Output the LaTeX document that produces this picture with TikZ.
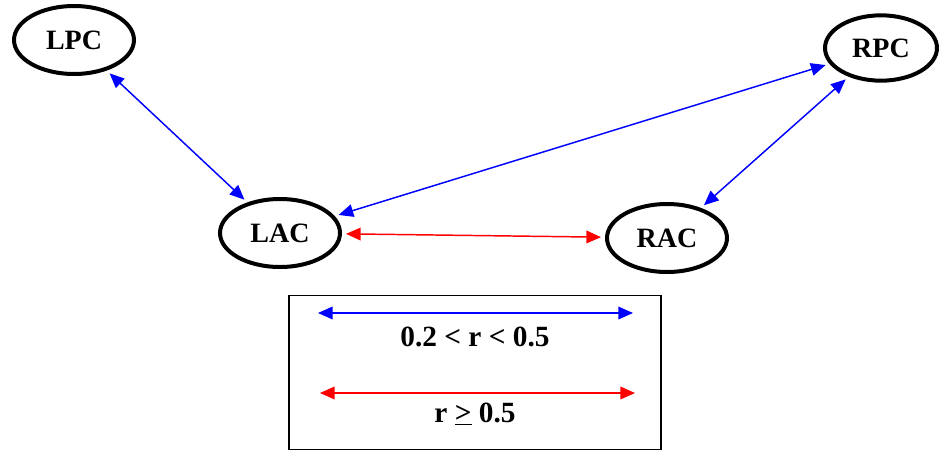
\documentclass[tikz,border=0pt]{standalone}
\usepackage{fontspec}
\setmainfont{Liberation Serif}
\usetikzlibrary{arrows.meta, positioning, shapes.geometric}

\begin{document}
\begin{tikzpicture}[
  x=0.75pt, y=-0.75pt,
  region/.style={ellipse, draw=black, line width=3pt, minimum width=90pt,
                 minimum height=51pt, inner sep=0pt, font=\bfseries\fontsize{21}{24}\selectfont},
  link/.style={{Triangle[length=11pt, width=9.5pt]}-{Triangle[length=11pt, width=9.5pt]},
               line width=1.1pt, shorten <=3pt, shorten >=3pt},
  weak/.style={link, blue},
  strong/.style={link, red},
  legendtext/.style={font=\bfseries\fontsize{22}{26}\selectfont, inner sep=0pt}
]
\useasboundingbox (0,0) rectangle (939,450);

\node[region] (lpc) at (74,40) {LPC};
\node[region, minimum width=84pt, minimum height=49pt] (rpc) at (881,48) {RPC};
\node[region] (lac) at (280,233) {LAC};
\node[region] (rac) at (667,238) {RAC};

\draw[weak] (lpc) -- (lac);
\draw[weak] (lac) -- (rpc);
\draw[weak] (rpc) -- (rac);
\draw[strong] (lac) -- (rac);

% legend
\node[draw=black, line width=0.8pt, minimum width=279pt, minimum height=115pt, inner sep=0pt] (legend) at (475,372.5) {};
\coordinate (w1) at (318,313);
\coordinate (w2) at (633,313);
\coordinate (s1) at (320,393);
\coordinate (s2) at (635,393);
\draw[weak, shorten <=0pt, shorten >=0pt] (w1) -- (w2);
\draw[strong, shorten <=0pt, shorten >=0pt] (s1) -- (s2);
\node[legendtext] (weaklabel) at (475,337) {0.2 < r < 0.5};
\node[legendtext] (stronglabel) at (475,414) {r \underline{>} 0.5};

\end{tikzpicture}
\end{document}
